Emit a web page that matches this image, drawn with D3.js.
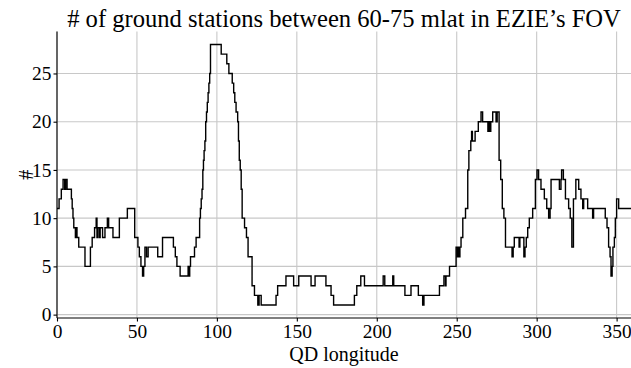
<!DOCTYPE html>
<html>
<head>
<meta charset="utf-8">
<script src="https://cdn.jsdelivr.net/npm/d3@7"></script>
<style>
  html, body { margin: 0; padding: 0; background: #fff; }
  svg { display: block; }
</style>
</head>
<body>
<svg id="chart" width="631" height="368"></svg>
<script>
// longitude where the count changes (step starts here)
var lonBreaks = [0, 1.3, 2.7, 3.8, 4.8, 5.4, 6.3, 9, 9.5, 10, 10.5, 11.5, 12, 12.5, 13.6, 17.5, 20.9, 22, 23.5, 24.5,
  25, 25.5, 26.5, 27, 28.5, 30, 31.5, 32.3, 35, 39, 44, 48.6, 50.6, 51.5, 52.5, 53.5, 54.2, 55, 56, 57,
  63, 66, 72.8, 74, 75, 77, 82, 82.5, 83, 83.5, 86, 87, 89.2, 89.7, 90.2, 90.7, 91.2, 91.6, 92, 92.5,
  93, 93.5, 94, 94.5, 95, 95.5, 96, 102.7, 106.2, 107.5, 109.6, 110.5, 111.2, 112, 113, 113.5, 114, 114.6, 115.2, 115.8,
  117.3, 118.5, 119.5, 122, 123.5, 125.6, 126.4, 127.7, 137, 138, 143.2, 148, 151.2, 158.9, 161.4, 168.2, 171.4, 173, 186, 187.5,
  190, 192.3, 204, 205, 210, 210.6, 217.6, 221.4, 226, 228.7, 229.5, 239.2, 242, 243, 243.3, 245.5, 249.6, 250.5, 251, 251.5,
  252, 252.7, 253.8, 255.5, 256.9, 257.6, 258.8, 259.3, 259.8, 261.5, 263.5, 265.2, 266.2, 269.5, 270, 270.7, 271.3, 272.5, 274.6, 275.3,
  276.5, 277.5, 278.5, 279.5, 280.5, 284.6, 285.3, 286, 289, 289.5, 292, 292.7, 293.5, 294.4, 295.4, 297.5, 299.2, 300.2, 301.2, 302.7,
  304.8, 306.3, 307.5, 308.4, 309, 314.2, 315.2, 315.6, 316.7, 318, 320, 321, 322, 323, 324.5, 326.3, 327.7, 328.8, 329.4, 331.9,
  335, 335.6, 342.9, 344, 345, 345.9, 346.5, 347.2, 347.7, 348.6, 349.2, 350, 351.3, 359];

// number of ground stations for each step
var stationCounts = [11, 12, 13, 14, 13, 14, 13, 12, 11, 10, 9, 8, 9, 8, 7, 5, 7, 8, 9, 10,
  8, 9, 8, 9, 8, 9, 10, 9, 8, 10, 11, 8, 7, 6, 5, 4, 5, 7, 6, 7,
  6, 8, 7, 6, 5, 4, 5, 4, 5, 6, 7, 8, 10, 11, 12, 13, 15, 16, 17, 18,
  20, 21, 22, 23, 24, 25, 28, 27, 26, 25, 24, 23, 22, 21, 20, 18, 16, 15, 13, 10,
  9, 8, 6, 3, 2, 1, 2, 1, 2, 3, 4, 3, 4, 3, 4, 3, 2, 1, 2, 3,
  4, 3, 4, 3, 4, 3, 2, 3, 2, 1, 2, 3, 4, 3, 4, 5, 7, 6, 7, 6,
  7, 8, 10, 11, 15, 17, 18, 19, 18, 19, 20, 21, 20, 19, 20, 19, 20, 21, 20, 21,
  16, 14, 11, 10, 7, 6, 7, 8, 7, 8, 6, 7, 8, 9, 10, 11, 14, 15, 14, 13,
  12, 11, 10, 11, 14, 13, 14, 15, 14, 12, 11, 10, 7, 12, 14, 13, 12, 11, 12, 11,
  10, 11, 10, 9, 7, 6, 4, 5, 7, 8, 10, 12, 11, 11];

var xTicks = [0, 50, 100, 150, 200, 250, 300, 350];
var yTicks = [0, 5, 10, 15, 20, 25];

var titleText = "# of ground stations between 60-75 mlat in EZIE\u2019s FOV";
var xLabel = "QD longitude";
var yLabel = "#";

var FONT = "'Liberation Serif'";   // closest installed match to the LaTeX serif

var svg = d3.select("#chart");
var margin = { left: 57, right: 0, top: 31.5, bottom: 50 };
var width = +svg.attr("width"), height = +svg.attr("height");

var x = d3.scaleLinear().domain([0, 359]).range([margin.left, width - margin.right]);
var y = d3.scaleLinear().domain([-0.35, 29.35]).range([height - margin.bottom, margin.top]);

var points = lonBreaks.map(function(d, i) { return { lon: d, n: stationCounts[i] }; });

// grid lines
var grid = svg.append("g").attr("class", "grid");
grid.selectAll("line.gx")
  .data(xTicks)
  .enter().append("line")
  .attr("x1", function(d) { return x(d); })
  .attr("x2", function(d) { return x(d); })
  .attr("y1", y.range()[0])
  .attr("y2", y.range()[1])
  .attr("stroke", "#c8c8c8")
  .attr("stroke-width", 1.1);
grid.selectAll("line.gy")
  .data(yTicks)
  .enter().append("line")
  .attr("x1", x.range()[0])
  .attr("x2", x.range()[1])
  .attr("y1", function(d) { return y(d); })
  .attr("y2", function(d) { return y(d); })
  .attr("stroke", "#c8c8c8")
  .attr("stroke-width", 1.1);

// the step line
var line = d3.line()
  .x(function(d) { return x(d.lon); })
  .y(function(d) { return y(d.n); })
  .curve(d3.curveStepAfter);

svg.append("path")
  .datum(points)
  .attr("fill", "none")
  .attr("stroke", "#000")
  .attr("stroke-width", 1.4)
  .attr("d", line);

// axes
var xAxis = svg.append("g")
  .attr("transform", "translate(0," + y.range()[0] + ")")
  .call(d3.axisBottom(x).tickValues(xTicks).tickSize(3.5).tickPadding(3).tickFormat(d3.format("d")));
var yAxis = svg.append("g")
  .attr("transform", "translate(" + x.range()[0] + ",0)")
  .call(d3.axisLeft(y).tickValues(yTicks).tickSize(3.5).tickPadding(2).tickFormat(d3.format("d")));

[xAxis, yAxis].forEach(function(ax) {
  ax.attr("font-family", null).attr("font-size", null);
  ax.select(".domain").attr("stroke", "#000").attr("stroke-width", 1.1);
  ax.selectAll(".tick line").attr("stroke", "#000").attr("stroke-width", 1.1);
  ax.selectAll(".tick text")
    .style("font-family", FONT)
    .style("font-size", "19.4px")
    .attr("fill", "#000");
});
// no end caps on the domain lines
xAxis.select(".domain").attr("d", "M" + x.range()[0] + ",0H" + x.range()[1]);
yAxis.select(".domain").attr("d", "M0," + y.range()[0] + "V" + y.range()[1]);

// labels
svg.append("text")
  .attr("x", (x.range()[0] + x.range()[1]) / 2)
  .attr("y", 361)
  .attr("text-anchor", "middle")
  .style("font-family", FONT)
  .style("font-size", "20px")
  .text(xLabel);

svg.append("text")
  .attr("transform", "translate(26," + ((y.range()[0] + y.range()[1]) / 2) + ") rotate(-90)")
  .attr("text-anchor", "middle")
  .attr("dy", "0.35em")
  .style("font-family", FONT)
  .style("font-size", "20px")
  .text(yLabel);

// title, sized to fill the same width as the reference title
var title = svg.append("text")
  .attr("x", (x.range()[0] + x.range()[1]) / 2)
  .attr("y", 27)
  .attr("text-anchor", "middle")
  .style("font-family", FONT)
  .style("font-size", "22px")
  .text(titleText);
var tw = title.node().getComputedTextLength();
title.style("font-size", (22 * 554 / tw) + "px");
</script>
</body>
</html>
